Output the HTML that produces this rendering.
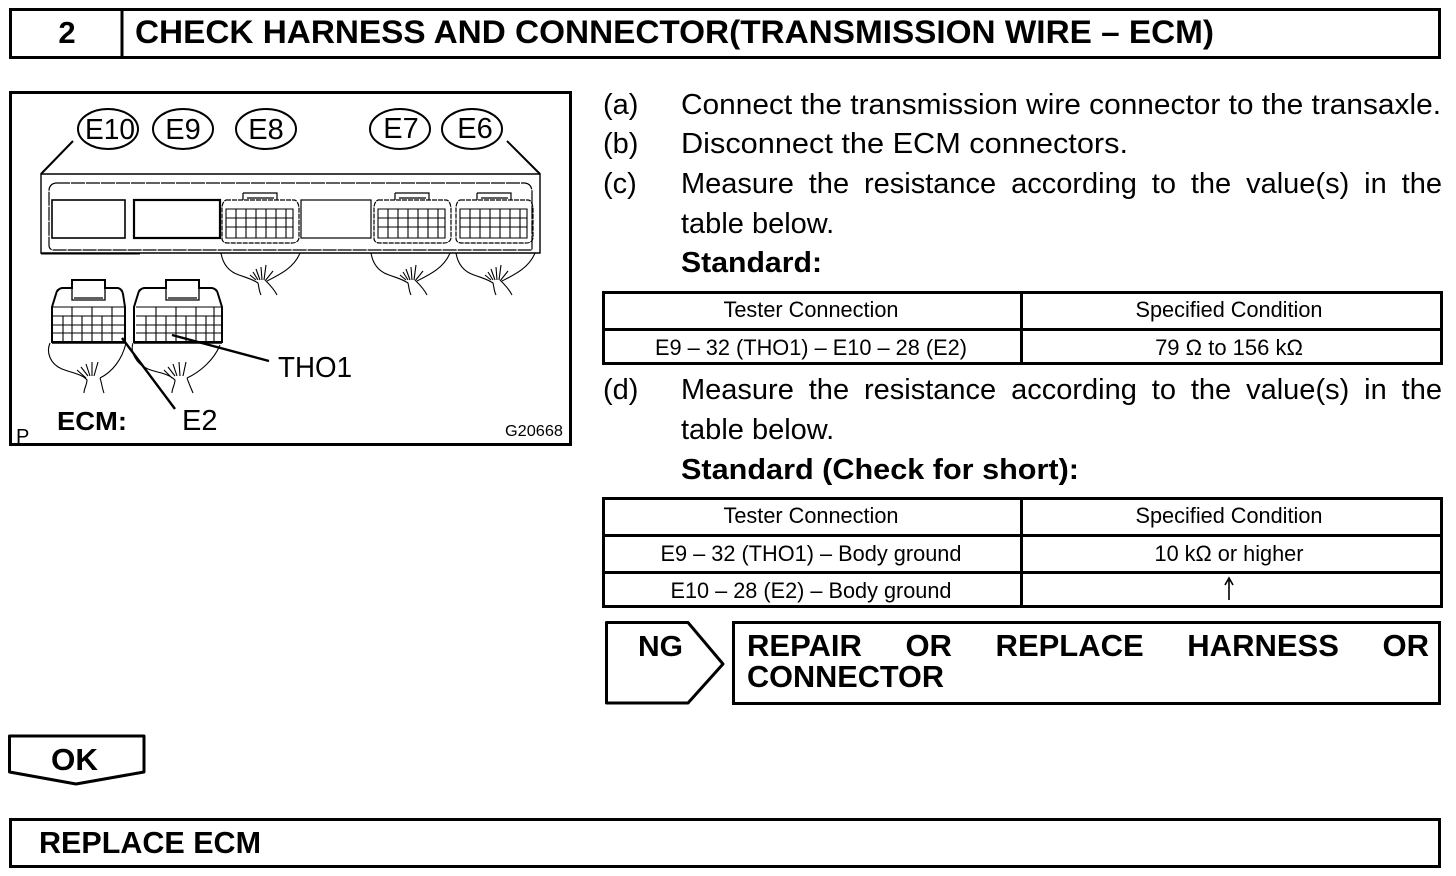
<!DOCTYPE html>
<html><head><meta charset="utf-8"><style>
html,body{margin:0;padding:0;background:#fff;width:1456px;height:876px;overflow:hidden}
svg{position:absolute;left:0;top:0}
text{font-family:"Liberation Sans",sans-serif;fill:#000}
.b{font-size:29px}.bb{font-size:29px;font-weight:bold}.t{font-size:22px;text-anchor:middle}
.j{position:absolute;left:681px;width:761px;font:29px/34px "Liberation Sans",sans-serif;color:#000;text-align:justify;text-align-last:justify;white-space:nowrap}
.jb{position:absolute;left:747px;width:682px;font:bold 31px/34px "Liberation Sans",sans-serif;color:#000;text-align:justify;text-align-last:justify;white-space:nowrap}
</style></head><body>
<svg width="1456" height="876" viewBox="0 0 1456 876" xmlns="http://www.w3.org/2000/svg">
<defs>
<g id="wire" fill="none" stroke="#000" stroke-width="1.1">
<path d="M0 0C2 12 9 19 18 22C26 25 31 26 37 30C38 34 38 38 40 42M35 27L29 22M37 27L32 19M39 27L35 16M41 27L40 14M43 27L45 12M44 28L52 18M45 28C50 33 54 38 56 42M46 28C58 22 73 15 79 0"/>
</g>
<g id="conn" fill="none" stroke="#000" stroke-width="1.2">
<path d="M21 -7H55V0M21 -7V0M25 -2H52"/>
<path d="M4 0H72Q76 0 77 8V38Q76 43 70 43H6Q0 43 0 38V8Q0 2 4 0Z" stroke-dasharray="5 1"/>
<path d="M4 9H71V38H4ZM4 18H71M4 27H71M14 9V38M24 9V38M34 9V38M44 9V38M54 9V38M64 9V38" stroke-width="1.1"/>
</g>
</defs>

<!-- header -->
<rect x="10.5" y="9.5" width="1429" height="48" fill="none" stroke="#000" stroke-width="3"/>
<path d="M122 9V58" stroke="#000" stroke-width="3"/>
<text x="67" y="43" text-anchor="middle" style="font-size:31px;font-weight:bold">2</text>
<text x="135" y="43" textLength="1079" lengthAdjust="spacingAndGlyphs" style="font-size:32px;font-weight:bold">CHECK HARNESS AND CONNECTOR(TRANSMISSION WIRE – ECM)</text>

<!-- illustration -->
<rect x="10.5" y="92.5" width="560" height="352" fill="none" stroke="#000" stroke-width="3"/>
<g fill="none" stroke="#000" stroke-width="2">
<ellipse cx="108" cy="129" rx="30" ry="20"/>
<ellipse cx="183" cy="129" rx="30" ry="20"/>
<ellipse cx="266" cy="129" rx="30" ry="20"/>
<ellipse cx="400" cy="129" rx="30" ry="20"/>
<ellipse cx="472" cy="129" rx="30" ry="20"/>
<path d="M73 141L41 174M507 141L540 174"/>
</g>
<text x="85" y="139" style="font-size:29px" textLength="50" lengthAdjust="spacingAndGlyphs">E10</text>
<text x="183" y="139" text-anchor="middle" style="font-size:29px">E9</text>
<text x="266" y="139" text-anchor="middle" style="font-size:29px">E8</text>
<text x="401" y="138" text-anchor="middle" style="font-size:29px">E7</text>
<text x="475" y="138" text-anchor="middle" style="font-size:29px">E6</text>
<g fill="none" stroke="#000">
<path d="M41 174H540V253H41Z" stroke-width="1.4"/>
<path d="M41 253.5H140" stroke-width="2"/>
<path d="M56 183H525Q532 184 532 192V250H54Q49 250 49 245V191Q49 184 56 183Z" stroke-width="1.2" stroke-dasharray="14 1"/>
<rect x="52" y="200" width="73" height="38" stroke-width="1.6"/>
<rect x="134" y="200" width="86" height="38" stroke-width="2.2"/>
<rect x="301" y="200" width="70" height="38" stroke-width="1.2"/>
</g>
<use href="#conn" x="222" y="200"/>
<use href="#conn" x="374" y="200"/>
<use href="#conn" x="456" y="200"/>
<use href="#wire" x="221" y="253"/>
<use href="#wire" x="371" y="253"/>
<use href="#wire" x="456" y="253"/>

<!-- lower left connector -->
<g fill="none" stroke="#000">
<path d="M52 307L56 294Q57 289 62 288H72V280H105V288H118Q122 289 123 294L125 307V342H52Z" stroke-width="2"/>
<path d="M72 288V300H105V288M74 298H103" stroke-width="1.3"/>
<path d="M53 307H125M53 316H125M53 325H125M53 333H125M63 316V342M72 307V342M82 316V342M92 307V342M102 316V342M112 307V342" stroke-width="1.1"/>
<path d="M52 342.5H125" stroke-width="2.5"/>
<path d="M50 343C46 352 50 364 62 369C72 373 82 374 87 380C87 385 84 388 84 393M100 378C102 384 102 388 104 393M86 378L77 370M88 376L81 367M90 376L86 364M92 376L92 362M94 376L98 362M100 378C112 372 122 360 126 343" stroke-width="1.1"/>
</g>
<!-- lower right connector -->
<g fill="none" stroke="#000">
<path d="M134 307L138 294Q139 289 144 288H166V280H199V288H212Q217 289 218 294L222 307V342H134Z" stroke-width="2"/>
<path d="M166 288V300H199V288M168 298H197" stroke-width="1.3"/>
<path d="M136 307H221M136 316H221M136 325H221M136 333H221M146 316V342M156 307V342M166 316V342M176 307V342M186 316V342M196 307V342M206 316V342M214 307V342" stroke-width="1.1"/>
<path d="M134 342.5H222" stroke-width="2.5"/>
<path d="M133 343C130 352 136 364 148 369C158 373 168 373 175 380C175 385 172 388 172 393M187 378C189 384 191 388 193 393M172 378L164 370M175 376L168 367M177 376L173 364M180 376L179 362M183 376L186 362M187 378C200 372 214 360 220 345" stroke-width="1.1"/>
</g>
<path d="M122 338L175 409M172 335L269 361" stroke="#000" stroke-width="2.4" fill="none"/>
<text x="278" y="377" style="font-size:29px" textLength="74" lengthAdjust="spacingAndGlyphs">THO1</text>
<text x="182" y="430" style="font-size:29px">E2</text>
<text x="57" y="430" style="font-size:26px;font-weight:bold" textLength="70" lengthAdjust="spacingAndGlyphs">ECM:</text>
<text x="16" y="443" style="font-size:20px">P</text>
<text x="505" y="436" style="font-size:16px" textLength="58" lengthAdjust="spacingAndGlyphs">G20668</text>

<!-- steps -->
<text x="603" y="114" class="b">(a)</text>
<text x="681" y="114" class="b" textLength="760" lengthAdjust="spacingAndGlyphs">Connect the transmission wire connector to the transaxle.</text>
<text x="603" y="153" class="b">(b)</text>
<text x="681" y="153" class="b" textLength="447" lengthAdjust="spacingAndGlyphs">Disconnect the ECM connectors.</text>
<text x="603" y="193" class="b">(c)</text>
<text x="681" y="233" class="b">table below.</text>
<text x="681" y="272" class="bb" textLength="141" lengthAdjust="spacingAndGlyphs">Standard:</text>
<text x="603" y="399" class="b">(d)</text>
<text x="681" y="439" class="b">table below.</text>
<text x="681" y="479" class="bb" textLength="398" lengthAdjust="spacingAndGlyphs">Standard (Check for short):</text>

<!-- tables -->
<g fill="none" stroke="#000" stroke-width="3">
<path d="M603.5 292.5H1441.5V363.5H603.5ZM603 329.5H1442M1021.5 292V364"/>
<path d="M603.5 498.5H1441.5V606.5H603.5ZM603 535.5H1442M603 572.5H1442M1021.5 498V607"/>
</g>
<text x="811" y="317" class="t" textLength="175" lengthAdjust="spacingAndGlyphs">Tester Connection</text>
<text x="1229" y="317" class="t" textLength="187" lengthAdjust="spacingAndGlyphs">Specified Condition</text>
<text x="811" y="355" class="t" textLength="312" lengthAdjust="spacingAndGlyphs">E9 – 32 (THO1) – E10 – 28 (E2)</text>
<text x="1229" y="355" class="t">79 Ω to 156 kΩ</text>
<text x="811" y="523" class="t" textLength="175" lengthAdjust="spacingAndGlyphs">Tester Connection</text>
<text x="1229" y="523" class="t" textLength="187" lengthAdjust="spacingAndGlyphs">Specified Condition</text>
<text x="811" y="561" class="t" textLength="301" lengthAdjust="spacingAndGlyphs">E9 – 32 (THO1) – Body ground</text>
<text x="1229" y="561" class="t" textLength="149" lengthAdjust="spacingAndGlyphs">10 kΩ or higher</text>
<text x="811" y="598" class="t" textLength="281" lengthAdjust="spacingAndGlyphs">E10 – 28 (E2) – Body ground</text>
<path d="M1229 600V580M1225 585L1229 578L1233 585" fill="none" stroke="#000" stroke-width="1.6"/>

<!-- NG -->
<path d="M606.5 622.5H688L723 664L688 703H606.5Z" fill="none" stroke="#000" stroke-width="3" stroke-linejoin="round"/>
<text x="638" y="656" style="font-size:29px;font-weight:bold" textLength="45" lengthAdjust="spacingAndGlyphs">NG</text>
<rect x="733.5" y="622.5" width="706" height="81" fill="none" stroke="#000" stroke-width="3"/>
<text x="747" y="687" style="font-size:31px;font-weight:bold" textLength="197" lengthAdjust="spacingAndGlyphs">CONNECTOR</text>

<!-- OK -->
<path d="M9.5 736H144V772L76 784L9.5 772Z" fill="none" stroke="#000" stroke-width="3" stroke-linejoin="round"/>
<text x="51" y="770" style="font-size:31px;font-weight:bold" textLength="47" lengthAdjust="spacingAndGlyphs">OK</text>

<!-- replace -->
<rect x="10.5" y="819.5" width="1429" height="47" fill="none" stroke="#000" stroke-width="3"/>
<text x="39" y="853" style="font-size:31px;font-weight:bold" textLength="222" lengthAdjust="spacingAndGlyphs">REPLACE ECM</text>
</svg>
<div class="j" style="top:167px">Measure the resistance according to the value(s) in the</div>
<div class="j" style="top:373px">Measure the resistance according to the value(s) in the</div>
<div class="jb" style="top:629px">REPAIR OR REPLACE HARNESS OR</div>
</body></html>
